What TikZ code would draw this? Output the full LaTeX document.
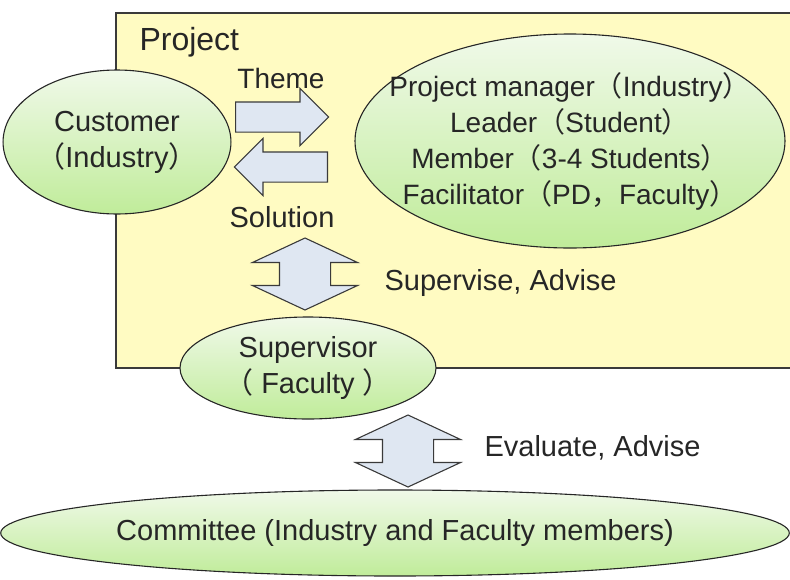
\documentclass[tikz,border=0pt]{standalone}
\usepackage{fontspec}
\setmainfont{Liberation Sans}
\newfontfamily\cjk{Noto Sans CJK JP}
\usetikzlibrary{positioning, shapes.geometric, shapes.arrows}

\definecolor{projyellow}{HTML}{FFFBC2}
\definecolor{leaftop}{HTML}{F0F9E9}
\definecolor{leafbottom}{HTML}{C0EC9A}
\definecolor{arrowblue}{HTML}{DFE7F2}
\definecolor{edgegray}{HTML}{3A3A3A}

% full-width brackets and comma
\newcommand{\lpar}{{\cjk （}}
\newcommand{\rpar}{{\cjk ）}}
\newcommand{\wcomma}{{\cjk ，}}

\begin{document}
\begin{tikzpicture}[
    x=1pt, y=-1pt,
    every node/.style={font=\fontsize{29}{36}\selectfont, text=black!85},
    role/.style={ellipse, draw=black!85, line width=1.1pt, top color=leaftop, bottom color=leafbottom, inner sep=0pt, align=center},
    flow/.style={single arrow, draw=edgegray, fill=arrowblue, line width=1.1pt, minimum height=93pt,
        single arrow head extend=13.5pt, inner xsep=0pt, inner ysep=14.5pt, anchor=tail},
    link/.style={double arrow, draw=edgegray, fill=arrowblue, line width=1.1pt, rotate=90, minimum height=72pt,
        double arrow head extend=27pt, double arrow tip angle=130, inner xsep=0pt, inner ysep=25pt}
]
\useasboundingbox (0,0) rectangle (790,579);

% Project area
\fill[projyellow] (116,13) rectangle (790,368);
\draw[edgegray, line width=1.6pt] (790,13) -- (116,13) -- (116,368) -- (790,368);
\node[anchor=west, font=\fontsize{32}{36}\selectfont] (project) at (136,42) {Project};

% Roles
\node[role, minimum width=208pt, minimum height=144pt] (customer) at (117,142) {Customer\\\lpar Industry\rpar};
\node[role, minimum width=430pt, minimum height=214pt] (team) at (570,141) {};
\node[align=center, font=\fontsize{28}{36}\selectfont] (members) at (team.center)
    {Project manager\lpar Industry\rpar\\Leader\lpar Student\rpar\\Member\lpar 3-4 Students\rpar\\Facilitator\lpar PD\wcomma Faculty\rpar};
\node[role, minimum width=256pt, minimum height=102pt] (supervisor) at (308,368) {Supervisor\\\lpar\ Faculty \rpar};
\node[role, minimum width=780pt, minimum height=86pt] (committee) at (395,533) {Committee (Industry and Faculty members)};

% Arrows
\node[flow] (theme) at (235,117) {};
\node[flow, rotate=180] (solution) at (328,167) {};
\node[link] (supervise) at (305,274) {};
\node[link] (evaluate) at (408,451) {};

% Labels
\node[font=\fontsize{28}{36}\selectfont] (themelbl) at (281,78) {Theme};
\node (solutionlbl) at (282,217) {Solution};
\node[anchor=west] (superviselbl) at (381,283) {Supervise, Advise};
\node[anchor=west] (evaluatelbl) at (481,448) {Evaluate, Advise};

\end{tikzpicture}
\end{document}
